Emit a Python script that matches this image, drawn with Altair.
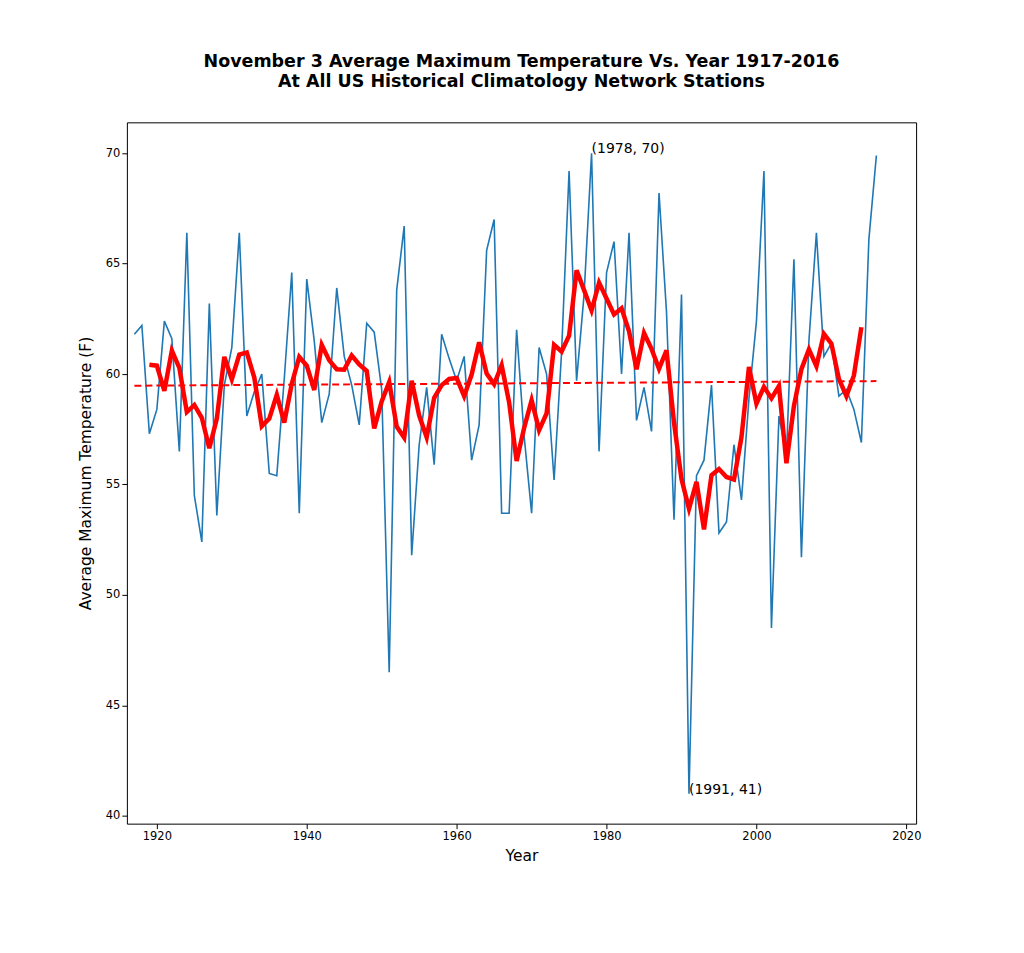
import pandas as pd
import altair as alt

years = list(range(1917, 2017))
tmax = [
    61.8, 62.2, 57.3, 58.4, 62.4, 61.6, 56.5, 66.4, 54.5, 52.4,
    63.2, 53.6, 59.5, 61.2, 66.4, 58.1, 59.2, 60.0, 55.5, 55.4,
    59.8, 64.6, 53.7, 64.3, 61.5, 57.8, 59.1, 63.9, 60.8, 59.5,
    57.7, 62.3, 61.9, 59.3, 46.5, 63.8, 66.7, 51.8, 56.8, 59.4,
    55.9, 61.8, 60.7, 59.7, 60.8, 56.1, 57.7, 65.6, 67.0, 53.7,
    53.7, 62.0, 57.2, 53.7, 61.2, 60.0, 55.2, 61.0, 69.2, 59.7,
    63.6, 70.0, 56.5, 64.6, 66.0, 60.0, 66.4, 57.9, 59.4, 57.4,
    68.2, 62.8, 53.4, 63.6, 41.0, 55.4, 56.1, 59.5, 52.8, 53.3,
    56.8, 54.3, 58.9, 62.4, 69.2, 48.5, 58.1, 56.3, 65.2, 51.7,
    61.5, 66.4, 60.8, 61.4, 59.0, 59.3, 58.4, 56.9, 66.1, 69.9,
]
notes_year = [1978, 1991]
notes_val = [70, 41]

df = pd.DataFrame({"year": years, "tmax": tmax})
df["avg"] = df["tmax"].rolling(5, center=True).mean()
notes = pd.DataFrame({"year": notes_year, "tmax": notes_val,
                      "label": [f"({y}, {v})" for y, v in zip(notes_year, notes_val)]})

x = alt.X("year:Q", title="Year", scale=alt.Scale(domain=[1916, 2021.3], nice=False, zero=False),
          axis=alt.Axis(values=[1920, 1940, 1960, 1980, 2000, 2020], format="d"))
y = alt.Y("tmax:Q", title="Average Maximum Temperature (F)",
          scale=alt.Scale(domain=[39.64, 71.4], nice=False, zero=False),
          axis=alt.Axis(values=[40, 45, 50, 55, 60, 65, 70]))

base = alt.Chart(df)
raw = base.mark_line(color="#1f77b4", strokeWidth=1.6).encode(x=x, y=y)
trend = base.transform_regression("year", "tmax").mark_line(
    color="red", strokeWidth=2, strokeDash=[7, 4]).encode(x=x, y=y)
smooth = base.transform_filter("isValid(datum.avg)").mark_line(
    color="red", strokeWidth=4.5).encode(x=x, y=alt.Y("avg:Q", scale=alt.Scale(domain=[39.64, 71.4], nice=False, zero=False)))
labels = alt.Chart(notes).mark_text(align="left", baseline="middle", fontSize=14,
                                    font="DejaVu Sans", color="black", dy=-4).encode(
    x=x, y=y, text="label:N")

chart = (raw + trend + smooth + labels).properties(
    width=790, height=702,
    autosize=alt.AutoSizeParams(type="none"),
    padding={"left": 119, "top": 114, "right": 100, "bottom": 100},
    title=alt.TitleParams(
        ["November 3 Average Maximum Temperature Vs. Year 1917-2016",
         "At All US Historical Climatology Network Stations"],
        fontSize=17.5, font="DejaVu Sans", fontWeight="bold", offset=32, anchor="middle"),
).configure_view(stroke="black", strokeWidth=1).configure_axis(
    grid=False, domain=False, tickColor="black", tickSize=5, labelColor="black",
    labelFont="DejaVu Sans", labelFontSize=11.5, titleFont="DejaVu Sans",
    titleFontSize=15.5, titleFontWeight="normal", titleColor="black",
).configure_axisX(titlePadding=6).configure_axisY(titlePadding=12)

chart.save("out.html", embed_options={"renderer": "svg", "actions": False})
